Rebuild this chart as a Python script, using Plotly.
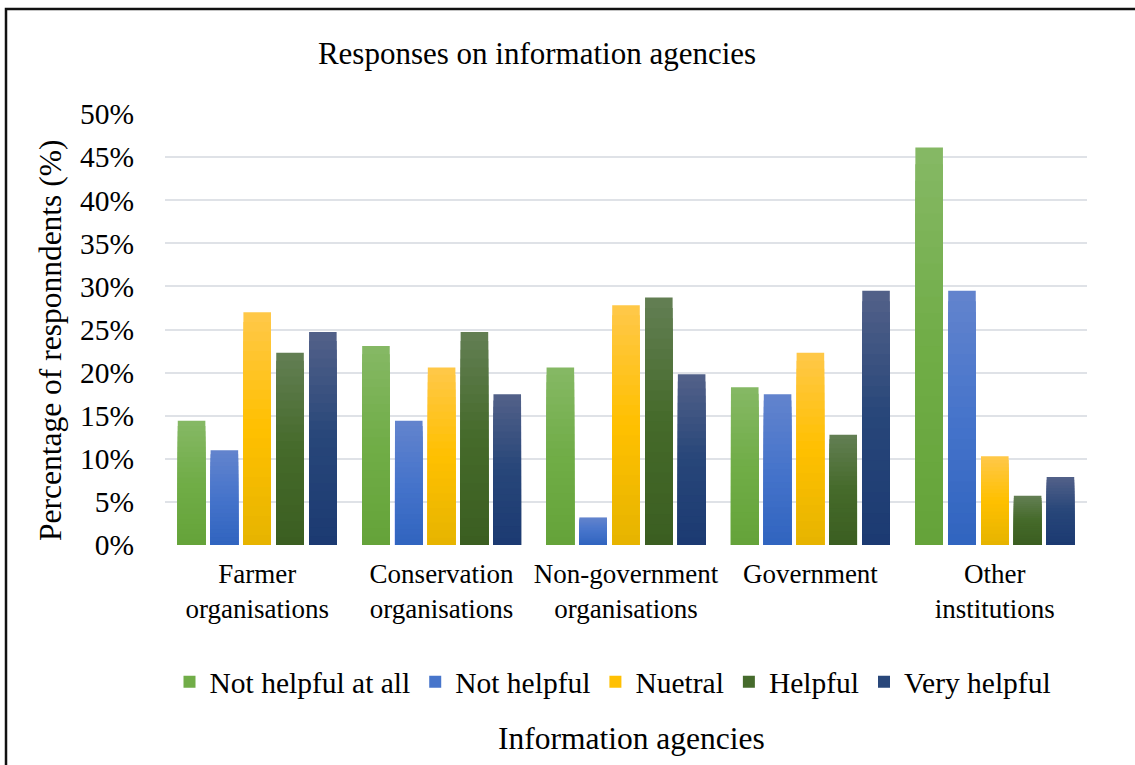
import plotly.graph_objects as go

# Categories (information agencies) and response shares (%)
agencies = [
    "Farmer<br>organisations",
    "Conservation<br>organisations",
    "Non-government<br>organisations",
    "Government",
    "Other<br>institutions",
]
series_names = ["Not helpful at all", "Not helpful", "Nuetral", "Helpful", "Very helpful"]

not_helpful_at_all = [14.4, 23.1, 20.6, 18.3, 46.1]
not_helpful = [11.0, 14.4, 3.2, 17.5, 29.5]
nuetral = [27.0, 20.6, 27.8, 22.3, 10.3]
helpful = [22.3, 24.7, 28.7, 12.8, 5.7]
very_helpful = [24.7, 17.5, 19.8, 29.5, 7.9]

y_ticks = [0, 5, 10, 15, 20, 25, 30, 35, 40, 45, 50]

# Vertical gradient stops per series: (bottom, middle, top)
gradients = [
    ("#65a339", "#70ad47", "#86b865"),
    ("#3064bf", "#4674cb", "#6384cd"),
    ("#e6b400", "#ffc000", "#ffc84a"),
    ("#3b5e21", "#456a2a", "#637f54"),
    ("#1c3a72", "#274679", "#536189"),
]

FONT = "Liberation Serif, Times New Roman, serif"
N_SLICES = 24


def hex_to_rgb(h):
    h = h.lstrip("#")
    return tuple(int(h[i:i + 2], 16) for i in (0, 2, 4))


def blend(stops, t):
    """Colour at fraction t (0 = bottom, 1 = top) of a three-stop gradient."""
    lo, mid, hi = (hex_to_rgb(s) for s in stops)
    if t <= 0.5:
        a, b, f = lo, mid, t / 0.5
    else:
        a, b, f = mid, hi, (t - 0.5) / 0.5
    r, g, bl = (round(a[i] + (b[i] - a[i]) * f) for i in range(3))
    return f"rgb({r},{g},{bl})"


fig = go.Figure()

all_values = [not_helpful_at_all, not_helpful, nuetral, helpful, very_helpful]
for i, (name, values, stops) in enumerate(zip(series_names, all_values, gradients)):
    # each bar is painted as overlapping layers sharing one offset group:
    # the full-height layer (top colour) first, then ever shorter layers in
    # darker tones, which yields a seamless top-to-bottom gradient
    for k in reversed(range(N_SLICES)):
        frac = (k + 1) / N_SLICES
        full = k == N_SLICES - 1
        fig.add_trace(go.Bar(
            x=agencies,
            y=[v * frac for v in values],
            offsetgroup=str(i),
            legendgroup=name,
            name=name,
            showlegend=(k == N_SLICES // 2),
            marker=dict(color=blend(stops, (k + 0.5) / N_SLICES), line=dict(width=0)),
            customdata=values,
            hovertemplate=("%{x}<br>" + name + ": %{customdata}%<extra></extra>") if full else None,
            hoverinfo=None if full else "skip",
        ))

L, R, T, B = 165, 48, 114, 220
W, H = 1135, 765
pw, ph = W - L - R, H - T - B


def px_x(px):
    return (px - L) / pw


def px_y(py):
    return (H - B - py) / ph


fig.update_layout(
    width=W,
    height=H,
    margin=dict(l=L, r=R, t=T, b=B),
    paper_bgcolor="white",
    plot_bgcolor="white",
    barmode="group",
    bargap=0.11,
    bargroupgap=0.16,
    font=dict(family=FONT, color="black"),
    title=dict(
        text="Responses on information agencies",
        font=dict(size=31, family=FONT, color="black"),
        xref="paper", x=px_x(537), xanchor="center",
        yref="container", y=1 - 53 / H, yanchor="middle",
    ),
    legend=dict(
        orientation="h",
        xref="paper", x=px_x(613), xanchor="center",
        yref="paper", y=px_y(682), yanchor="middle",
        font=dict(size=29.5, family=FONT, color="black"),
        itemclick=False,
    ),
    showlegend=True,
    xaxis=dict(
        showgrid=False,
        showline=False,
        ticks="",
        tickfont=dict(size=27, family=FONT, color="black"),
        ticklabelstandoff=10,
    ),
    yaxis=dict(
        range=[0, 50],
        tickvals=y_ticks,
        ticktext=[f"{t}%" for t in y_ticks],
        showgrid=True,
        gridcolor="#dfe2e7",
        gridwidth=1.5,
        zeroline=False,
        showline=False,
        ticks="",
        tickfont=dict(size=29.5, family=FONT, color="black"),
        ticklabelstandoff=30,
    ),
    annotations=[
        dict(
            text="Percentage of responndents (%)",
            xref="paper", yref="paper",
            x=px_x(50), y=px_y(341),
            xanchor="center", yanchor="middle",
            textangle=-90, showarrow=False,
            font=dict(size=31.5, family=FONT, color="black"),
        ),
        dict(
            text="Information agencies",
            xref="paper", yref="paper",
            x=px_x(631), y=px_y(738),
            xanchor="center", yanchor="middle",
            showarrow=False,
            font=dict(size=31.5, family=FONT, color="black"),
        ),
    ],
    shapes=[
        # outer chart frame
        dict(
            type="rect", xref="paper", yref="paper",
            x0=px_x(6), x1=px_x(W + 10),
            y0=px_y(H + 10), y1=px_y(9),
            line=dict(color="#111111", width=2.5),
            fillcolor="rgba(0,0,0,0)",
            layer="above",
        )
    ],
)

fig.write_html("out.html")
